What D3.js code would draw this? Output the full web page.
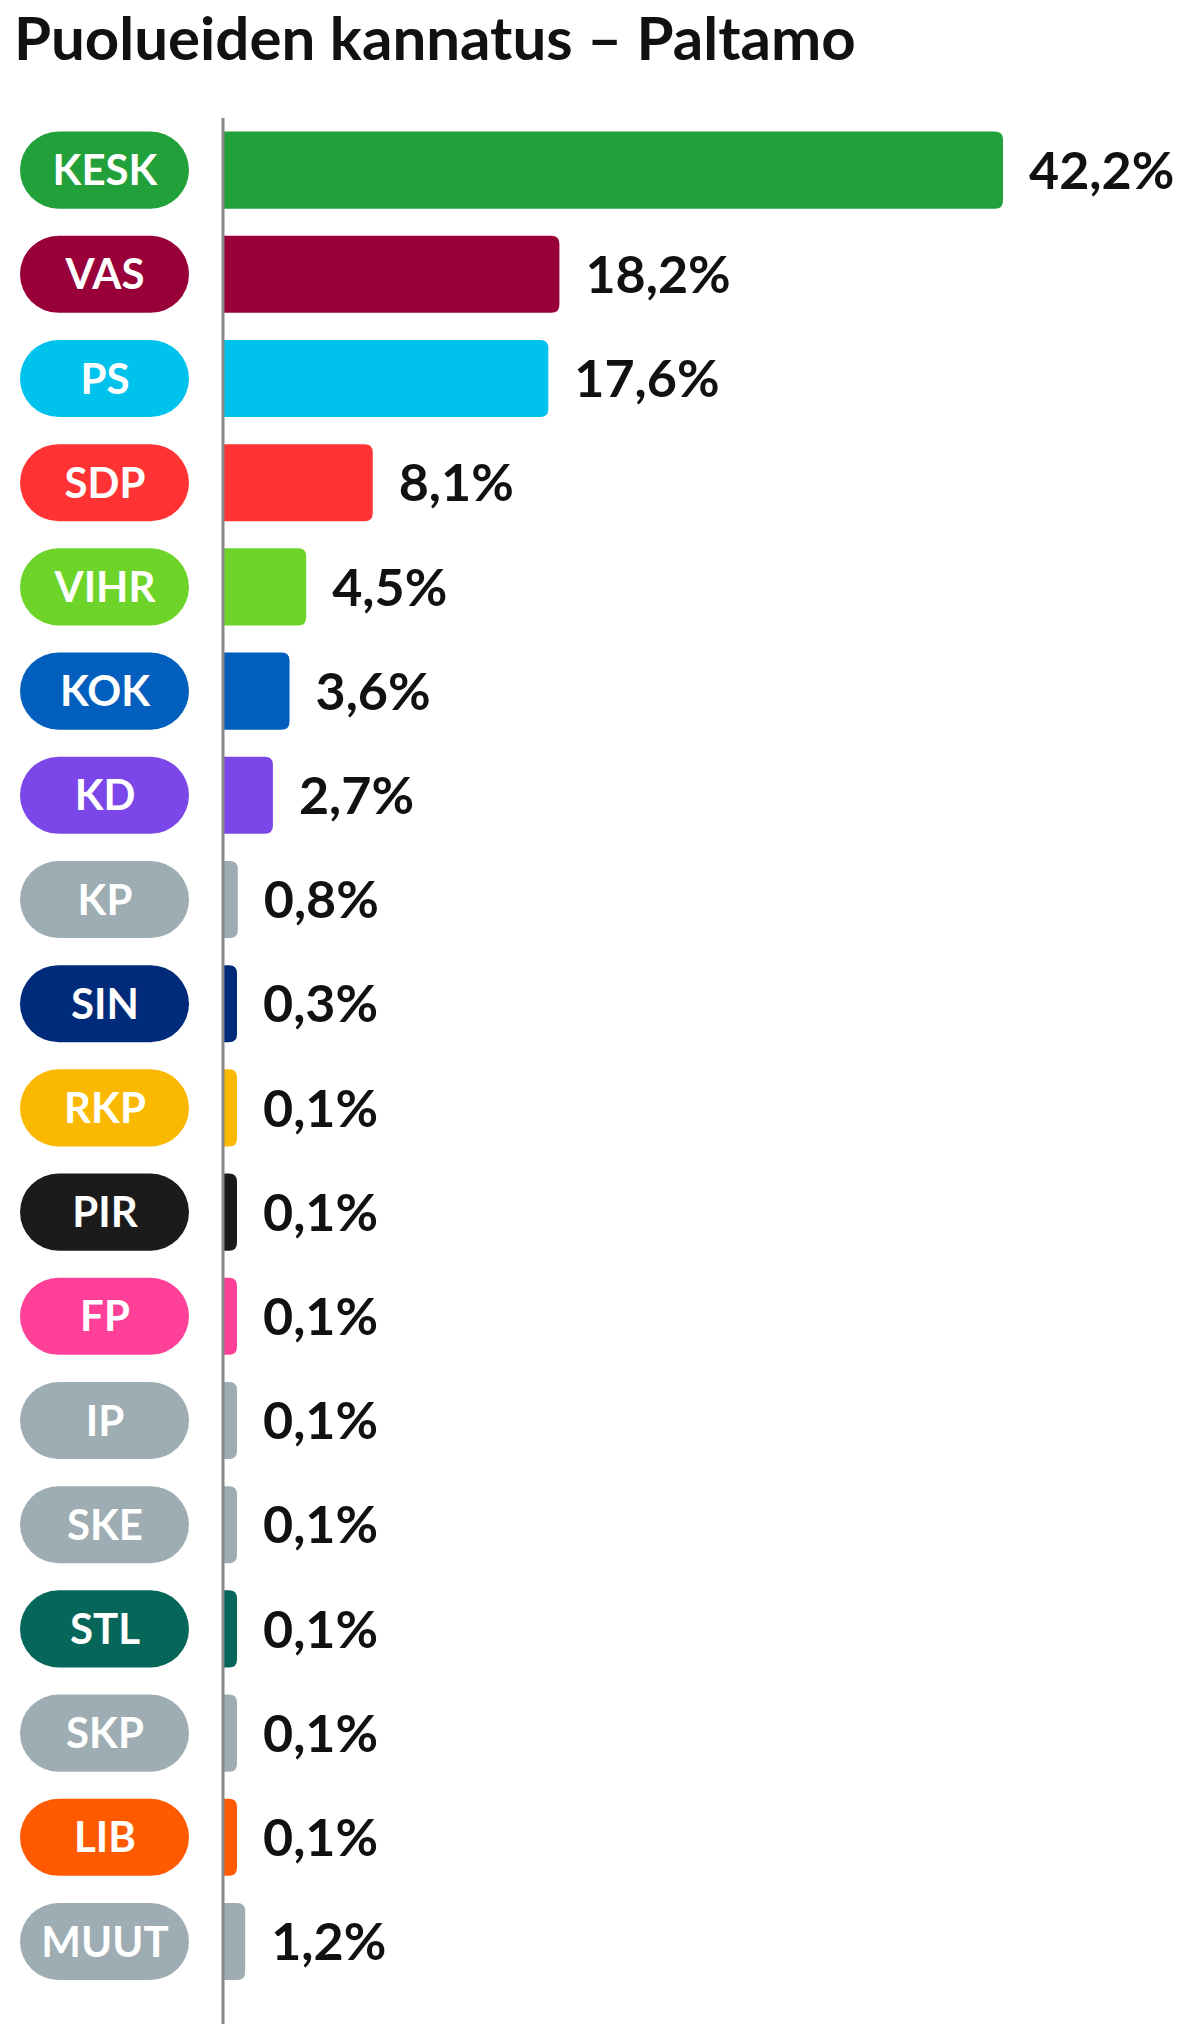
<!DOCTYPE html>
<html>
<head>
<meta charset="utf-8">
<script src="https://cdn.jsdelivr.net/npm/d3@7"></script>
<style>
  body { margin: 0; background: #fff; }
  text { font-family: Lato, "Open Sans", sans-serif; }
</style>
</head>
<body>
<div id="chart"></div>
<script>
const parties = ["KESK","VAS","PS","SDP","VIHR","KOK","KD","KP","SIN","RKP","PIR","FP","IP","SKE","STL","SKP","LIB","MUUT"]
const shares = [42.2,18.2,17.6,8.1,4.5,3.6,2.7,0.8,0.3,0.1,0.1,0.1,0.1,0.1,0.1,0.1,0.1,1.2]
const colors = ["#22a03a","#99003a","#00c3ed","#ff3333","#6ed42a","#025fbd","#7c47e8","#9eacb3","#002a7a","#fab900","#1b1b1b","#ff4099","#9eacb3","#9eacb3","#06665a","#9eacb3","#ff5a00","#9eacb3"]

const width = 1199, height = 2034
const axisX = 223

const svg = d3.select("#chart").append("svg")
    .attr("width", width)
    .attr("height", height)

svg.append("text")
    .attr("x", 14)
    .attr("y", 60)
    .attr("font-size", 60)
    .attr("font-weight", 700)
    .attr("fill", "#111")
    .text("Puolueiden kannatus – Paltamo")

const yScale = d3.scaleBand()
    .domain(parties)
    .range([118, 118 + 104.2 * parties.length])
    .paddingInner(0.26)
    .paddingOuter(0.13)

const xScale = d3.scaleLinear()
    .domain([0, 42.2])
    .range([0, 780])

const barW = d => Math.max(xScale(d), 14)
const data = parties.map((p, i) => ({party: p, share: shares[i], color: colors[i]}))

// pills
svg.selectAll("rect.pill")
    .data(data)
    .join("rect")
    .attr("class", "pill")
    .attr("x", 20)
    .attr("y", d => yScale(d.party))
    .attr("width", 169)
    .attr("height", yScale.bandwidth())
    .attr("rx", yScale.bandwidth() / 2)
    .attr("fill", d => d.color)

svg.selectAll("text.party")
    .data(data)
    .join("text")
    .attr("class", "party")
    .attr("x", 105)
    .attr("y", d => yScale(d.party) + yScale.bandwidth() / 2)
    .attr("dy", "0.36em")
    .attr("text-anchor", "middle")
    .attr("font-size", 42)
    .attr("font-weight", 700)
    .attr("fill", "white")
    .text(d => d.party)

// bars: flat left edge, rounded right
svg.selectAll("path.bar")
    .data(data)
    .join("path")
    .attr("class", "bar")
    .attr("fill", d => d.color)
    .attr("d", d => {
        const x0 = axisX, y0 = yScale(d.party), w = barW(d.share), h = yScale.bandwidth()
        const r = Math.min(8, w)
        return `M${x0},${y0}H${x0 + w - r}Q${x0 + w},${y0} ${x0 + w},${y0 + r}V${y0 + h - r}Q${x0 + w},${y0 + h} ${x0 + w - r},${y0 + h}H${x0}Z`
    })

svg.selectAll("text.value")
    .data(data)
    .join("text")
    .attr("class", "value")
    .attr("x", d => axisX + barW(d.share) + 26)
    .attr("y", d => yScale(d.party) + yScale.bandwidth() / 2)
    .attr("dy", "0.36em")
    .attr("font-size", 52)
    .attr("font-weight", 700)
    .attr("fill", "#111")
    .text(d => d3.format(".1f")(d.share).replace(".", ",") + "%")

svg.append("line")
    .attr("x1", axisX).attr("x2", axisX)
    .attr("y1", 118).attr("y2", 2024)
    .attr("stroke", "#888")
    .attr("stroke-width", 3)
</script>
</body>
</html>
